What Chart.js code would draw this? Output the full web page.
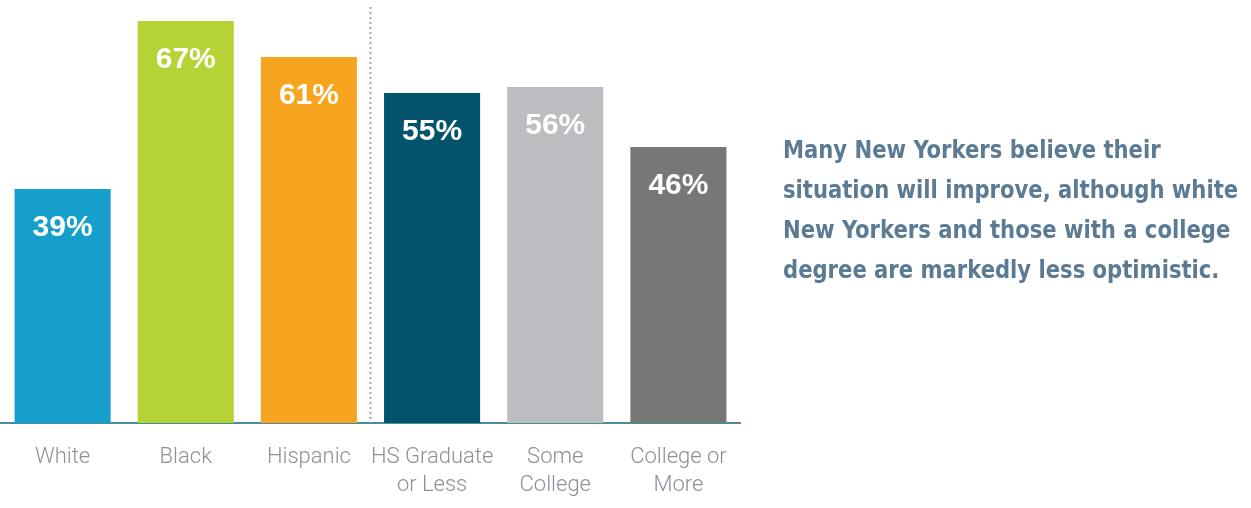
<!DOCTYPE html>
<html>
<head>
<meta charset="utf-8">
<script src="https://cdn.jsdelivr.net/npm/chart.js@4/dist/chart.umd.min.js"></script>
<style>
  html, body { margin: 0; padding: 0; background: #fff; overflow: hidden; }
  #wrap { position: relative; width: 1251px; height: 508px; }
  #note {
    position: absolute; left: 783px; top: 130px; white-space: nowrap;
    font-family: "Liberation Sans Narrow", "DejaVu Sans Condensed", "Roboto", sans-serif;
    font-weight: bold; font-size: 25px; line-height: 40px; color: #5b7a93;
    transform: scaleX(0.94); transform-origin: left top;
  }
</style>
</head>
<body>
<div id="wrap">
  <canvas id="chart" width="1251" height="508"></canvas>
  <div id="note">Many New Yorkers believe their<br>situation will improve, although white<br>New Yorkers and those with a college<br>degree are markedly less optimistic.</div>
</div>
<script>
const categories = [['White'], ['Black'], ['Hispanic'], ['HS Graduate', 'or Less'], ['Some', 'College'], ['College or', 'More']];
const values = [39, 67, 61, 55, 56, 46];
const barColors = ['#159fca', '#b5d334', '#f7a51e', '#02536b', '#bcbdc1', '#777775'];
const dividerAfter = 2; // dotted line between race and education groups

const barLabels = {
  id: 'barLabels',
  afterDatasetsDraw(chart) {
    const ctx = chart.ctx;
    const meta = chart.getDatasetMeta(0);
    ctx.save();
    ctx.fillStyle = '#fff';
    ctx.font = 'bold 30px "Liberation Sans", Arial, sans-serif';
    ctx.textAlign = 'center';
    ctx.textBaseline = 'middle';
    meta.data.forEach((bar, i) => {
      ctx.fillText(values[i] + '%', bar.x, bar.y + 39);
    });
    ctx.restore();
  }
};

const divider = {
  id: 'divider',
  afterDraw(chart) {
    const x = chart.scales.x;
    const px = (x.getPixelForValue(dividerAfter) + x.getPixelForValue(dividerAfter + 1)) / 2;
    const ctx = chart.ctx;
    ctx.save();
    ctx.strokeStyle = '#a3a3a3';
    ctx.lineWidth = 2;
    ctx.setLineDash([2, 3]);
    ctx.beginPath();
    ctx.moveTo(px, 7);
    ctx.lineTo(px, chart.chartArea.bottom);
    ctx.stroke();
    ctx.restore();
  }
};

new Chart(document.getElementById('chart'), {
  type: 'bar',
  data: {
    labels: categories,
    datasets: [{
      data: values,
      backgroundColor: barColors,
      barPercentage: 0.78,
      categoryPercentage: 1
    }]
  },
  options: {
    responsive: false,
    animation: false,
    layout: { padding: { left: 1, right: 511, top: 3, bottom: 0 } },
    plugins: { legend: { display: false }, tooltip: { enabled: false } },
    scales: {
      y: { display: false, min: 0, max: 70 },
      x: {
        grid: { display: false, drawTicks: false },
        border: { display: true, color: '#4a8ba0', width: 2 },
        ticks: {
          color: '#8a9199',
          padding: 21,
          maxRotation: 0,
          minRotation: 0,
          autoSkip: false,
          font: { family: 'Roboto, "Liberation Sans", sans-serif', size: 22, weight: 300, lineHeight: 1.27 }
        },
        afterFit(scale) { scale.height = 85; }
      }
    }
  },
  plugins: [barLabels, divider]
});
</script>
</body>
</html>
